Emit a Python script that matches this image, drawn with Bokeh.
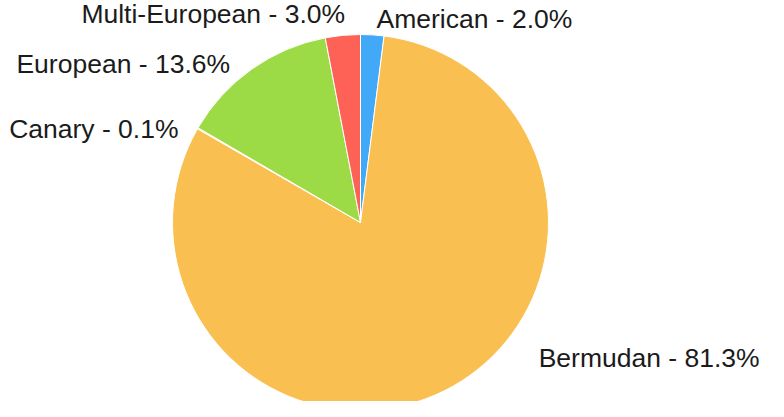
import math
from bokeh.plotting import figure
from bokeh.models import ColumnDataSource, Range1d
from bokeh.embed import file_html
from bokeh.resources import INLINE
from bokeh.core.properties import value

categories = ["American", "Bermudan", "Canary", "European", "Multi-European"]
shares = [2.0, 81.3, 0.1, 13.6, 3.0]
colors = ["#42A9F8", "#F9BF50", "#F9BF50", "#9CDB46", "#FE6156"]

W, H = 768, 401
cx, cy, r = 360, 179, 188
label_r = r * 1.1
# per-label nudges in screen pixels (layout only)
nudge_x = [3, 86, -3, -11, 4]
nudge_y = [3, -50, 10, 10, -3]

total = sum(shares)
starts, ends, lx, ly, aligns, texts = [], [], [], [], [], []
cum = 0.0
for c, s in zip(categories, shares):
    a0 = math.pi / 2 - 2 * math.pi * cum / total
    cum += s
    a1 = math.pi / 2 - 2 * math.pi * cum / total
    starts.append(a0)
    ends.append(a1)
    mid = (a0 + a1) / 2
    x = cx + label_r * math.cos(mid)
    y = cy + label_r * math.sin(mid)
    lx.append(x)
    ly.append(y)
    aligns.append("left" if x >= cx else "right")
    texts.append(f"{c} - {s:.1f}%")

src = ColumnDataSource(dict(start=starts, end=ends, color=colors, x=lx, y=ly,
                            align=aligns, text=texts, dx=nudge_x, dy=nudge_y))

p = figure(width=W, height=H, output_backend="svg", toolbar_location=None,
           x_range=Range1d(0, W), y_range=Range1d(0, H), min_border=0)
p.axis.visible = False
p.grid.visible = False
p.outline_line_color = None
p.background_fill_color = "white"
p.border_fill_color = "white"

p.wedge(x=cx, y=cy, radius=r, start_angle="start", end_angle="end",
        direction="clock", fill_color="color", line_color="white",
        line_width=1, source=src)

p.text(x="x", y="y", text="text", text_align="align", text_baseline="middle",
       x_offset="dx", y_offset="dy", text_font=value("Liberation Sans"),
       text_font_size="26.5px", text_color="#1b1b1b", source=src)

open("out.html", "w").write(file_html(p, INLINE))
